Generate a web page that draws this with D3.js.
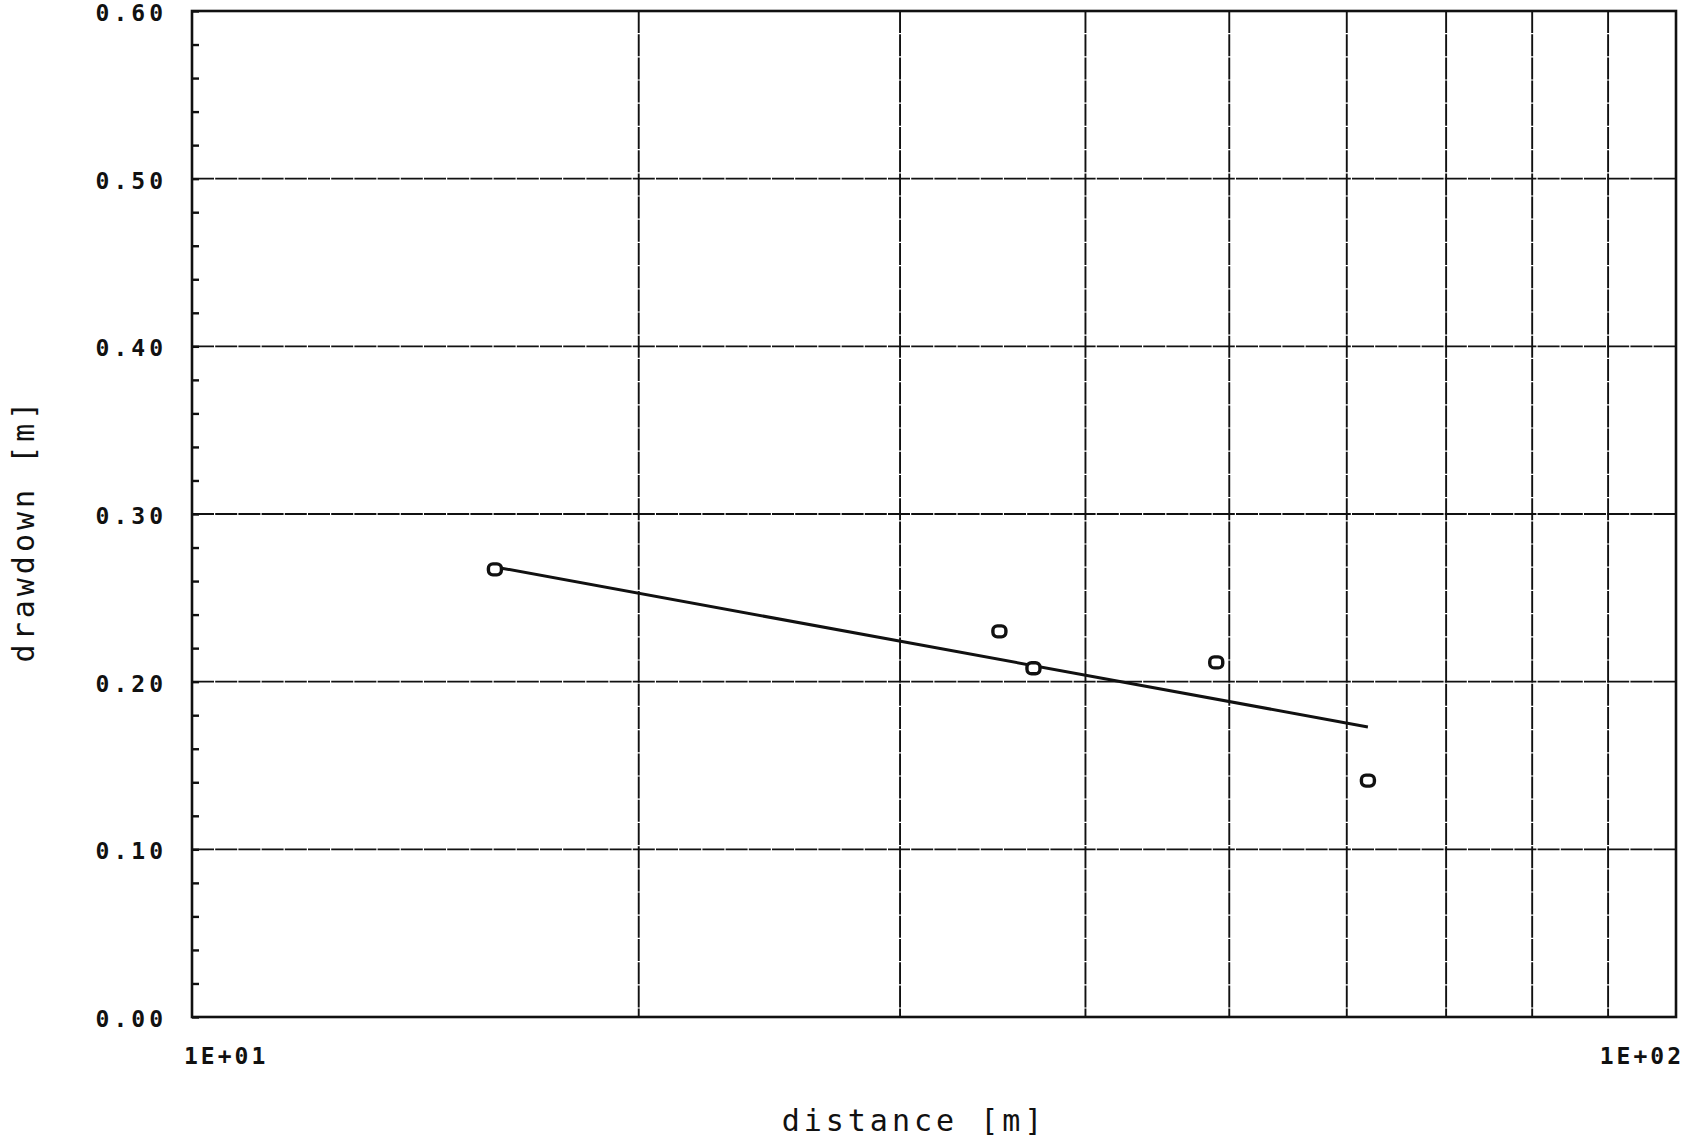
<!DOCTYPE html>
<html>
<head>
<meta charset="utf-8">
<script src="https://cdn.jsdelivr.net/npm/d3@7"></script>
<style>
  html, body { margin: 0; padding: 0; background: #fff; }
  #chart { width: 1688px; height: 1138px; }
</style>
</head>
<body>
<div id="chart"></div>
<script>
// measured points (distance [m], drawdown [m])
var distance = [16.0, 35.0, 36.9, 49.0, 62.0];
var drawdown = [0.267, 0.230, 0.208, 0.2115, 0.141];

// fitted straight line (semi-log), two ends
var fitDistance = [16.1, 62.0];
var fitDrawdown = [0.268, 0.173];

// axis ticks
var yMajor = [0, 0.1, 0.2, 0.3, 0.4, 0.5, 0.6];
var yLabels = ["0.00", "0.10", "0.20", "0.30", "0.40", "0.50", "0.60"];
var xGrid = [20, 30, 40, 50, 60, 70, 80, 90];
var xLabels = [{v: 10, t: "1E+01"}, {v: 100, t: "1E+02"}];

var margin = {top: 11, right: 12, bottom: 121, left: 192},
    width = 1688 - margin.left - margin.right,
    height = 1138 - margin.top - margin.bottom;

var svg = d3.select("#chart")
  .append("svg")
  .attr("width", 1688)
  .attr("height", 1138)
  .append("g")
  .attr("transform", "translate(" + margin.left + "," + margin.top + ")");

var x = d3.scaleLog().domain([10, 100]).range([0, width]);
var y = d3.scaleLinear().domain([0, 0.6]).range([height, 0]);

var tickFont = "'DejaVu Sans Mono', monospace";

// horizontal grid
svg.append("g")
  .selectAll("line")
  .data(yMajor)
  .enter()
  .append("line")
    .attr("x1", 0)
    .attr("x2", width)
    .attr("y1", function(d) { return y(d); })
    .attr("y2", function(d) { return y(d); })
    .attr("stroke", "#111")
    .attr("stroke-width", 1.9)
    .attr("stroke-dasharray", "22,1.2");

// vertical grid
svg.append("g")
  .selectAll("line")
  .data(xGrid)
  .enter()
  .append("line")
    .attr("x1", function(d) { return x(d); })
    .attr("x2", function(d) { return x(d); })
    .attr("y1", 0)
    .attr("y2", height)
    .attr("stroke", "#111")
    .attr("stroke-width", 1.9)
    .attr("stroke-dasharray", "22,1.2");

// minor ticks on left axis, every 0.02
var minor = d3.range(0, 0.6001, 0.02);
svg.append("g")
  .call(d3.axisRight(y).tickValues(minor).tickSize(7).tickFormat(""))
  .call(function(g) { g.select(".domain").remove(); })
  .selectAll("line")
    .attr("stroke", "#111")
    .attr("stroke-width", 2.4);

// frame
svg.append("rect")
  .attr("x", 0)
  .attr("y", 0)
  .attr("width", width)
  .attr("height", height)
  .attr("fill", "none")
  .attr("stroke", "#111")
  .attr("stroke-width", 2.6);

// y tick labels
svg.append("g")
  .selectAll("text")
  .data(yMajor)
  .enter()
  .append("text")
    .attr("x", -25)
    .attr("y", function(d) { return y(d) + 10; })
    .attr("text-anchor", "end")
    .style("font-family", tickFont)
    .style("font-weight", "bold")
    .style("font-size", "23px")
    .style("letter-spacing", "4px")
    .style("fill", "#111")
    .text(function(d, i) { return yLabels[i]; });

// x tick labels
svg.append("g")
  .selectAll("text")
  .data(xLabels)
  .enter()
  .append("text")
    .attr("x", function(d) { return d.v == 10 ? x(d.v) - 8 : x(d.v) + 8; })
    .attr("y", height + 47)
    .attr("text-anchor", function(d) { return d.v == 10 ? "start" : "end"; })
    .style("font-family", tickFont)
    .style("font-weight", "bold")
    .style("font-size", "23px")
    .style("letter-spacing", "3px")
    .style("fill", "#111")
    .text(function(d) { return d.t; });

// fitted line
var fitData = fitDistance.map(function(d, i) { return {x: d, y: fitDrawdown[i]}; });
svg.append("path")
  .datum(fitData)
  .attr("d", d3.line()
    .x(function(d) { return x(d.x); })
    .y(function(d) { return y(d.y); }))
  .attr("fill", "none")
  .attr("stroke", "#111")
  .attr("stroke-width", 3);

// data markers
var pts = distance.map(function(d, i) { return {x: d, y: drawdown[i]}; });
svg.append("g")
  .selectAll("rect")
  .data(pts)
  .enter()
  .append("rect")
    .attr("x", function(d) { return x(d.x) - 6.5; })
    .attr("y", function(d) { return y(d.y) - 5.5; })
    .attr("width", 13)
    .attr("height", 11)
    .attr("rx", 4.5)
    .attr("fill", "#fff")
    .attr("stroke", "#111")
    .attr("stroke-width", 3.4);

// axis titles
svg.append("text")
  .attr("x", width / 2 - 20)
  .attr("y", height + 114)
  .attr("text-anchor", "middle")
  .style("font-family", tickFont)
  .style("font-size", "30px")
  .style("letter-spacing", "4px")
  .style("fill", "#111")
  .text("distance [m]");

svg.append("text")
  .attr("transform", "translate(" + (-158) + "," + 519 + ") rotate(-90)")
  .attr("text-anchor", "middle")
  .style("font-family", tickFont)
  .style("font-size", "30px")
  .style("letter-spacing", "4px")
  .style("fill", "#111")
  .text("drawdown [m]");
</script>
</body>
</html>
